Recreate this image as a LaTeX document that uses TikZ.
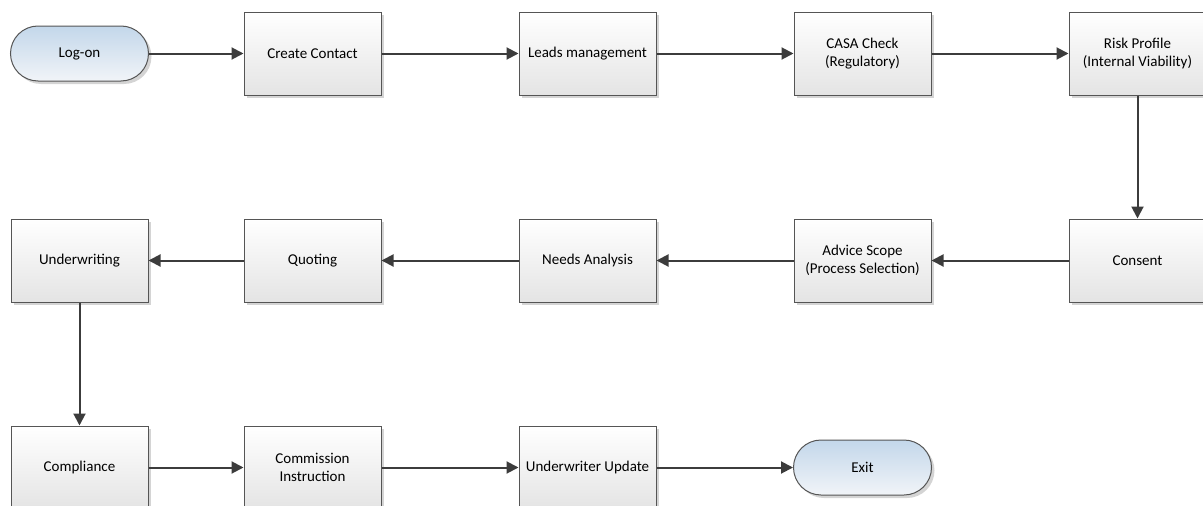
\documentclass[tikz,border=0pt]{standalone}
\usepackage{fontspec}
\setmainfont{Carlito}
\usetikzlibrary{arrows.meta,shadows}
\definecolor{edge}{HTML}{555555}
\definecolor{wire}{HTML}{3C3C3C}
\definecolor{termtop}{HTML}{C3D7EA}
\definecolor{termbot}{HTML}{F1F4F8}
\definecolor{boxbot}{HTML}{E4E4E4}
\definecolor{shade}{HTML}{D4D4D4}
\tikzset{
  base/.style={draw=edge, line width=1pt, align=center, inner sep=2pt,
    font=\fontsize{15}{18}\selectfont,
    drop shadow={shadow xshift=3pt, shadow yshift=-3pt, fill=shade, opacity=1}},
  stepbox/.style={base, rectangle, top color=white, bottom color=boxbot,
    minimum width=137pt, minimum height=83pt},
  terminal/.style={base, rectangle, rounded corners=27.5pt, top color=termtop, bottom color=termbot,
    minimum width=138pt, minimum height=55pt},
  flow/.style={draw=wire, line width=2pt, -{Triangle[length=12pt,width=12pt]}},
}
\begin{document}
\begin{tikzpicture}[x=1pt,y=-1pt]
\useasboundingbox (0,0) rectangle (1203,506);
% first row
\node[terminal] (logon)   at (79.5,53.5)  {Log-on};
\node[stepbox]  (contact) at (312.5,53.5) {Create Contact};
\node[stepbox]  (leads)   at (587.5,53.5) {Leads management};
\node[stepbox]  (casa)    at (862.5,53.5) {CASA Check\\(Regulatory)};
\node[stepbox]  (risk)    at (1137.5,53.5) {Risk Profile\\(Internal Viability)};
% second row
\node[stepbox]  (consent) at (1137.5,260.5) {Consent};
\node[stepbox]  (advice)  at (862.5,260.5) {Advice Scope\\(Process Selection)};
\node[stepbox]  (needs)   at (587.5,260.5) {Needs Analysis};
\node[stepbox]  (quoting) at (312.5,260.5) {Quoting};
\node[stepbox]  (under)   at (79.5,260.5)  {Underwriting};
% third row
\node[stepbox]  (compl)   at (79.5,467.5)  {Compliance};
\node[stepbox]  (comm)    at (312.5,467.5) {Commission\\Instruction};
\node[stepbox]  (update)  at (587.5,467.5) {Underwriter Update};
\node[terminal] (exit)    at (862.5,467.5) {Exit};
% connectors
\draw[flow] (logon) -- (contact);
\draw[flow] (contact) -- (leads);
\draw[flow] (leads) -- (casa);
\draw[flow] (casa) -- (risk);
\draw[flow] (risk) -- (consent);
\draw[flow] (consent) -- (advice);
\draw[flow] (advice) -- (needs);
\draw[flow] (needs) -- (quoting);
\draw[flow] (quoting) -- (under);
\draw[flow] (under) -- (compl);
\draw[flow] (compl) -- (comm);
\draw[flow] (comm) -- (update);
\draw[flow] (update) -- (exit);
\end{tikzpicture}
\end{document}
